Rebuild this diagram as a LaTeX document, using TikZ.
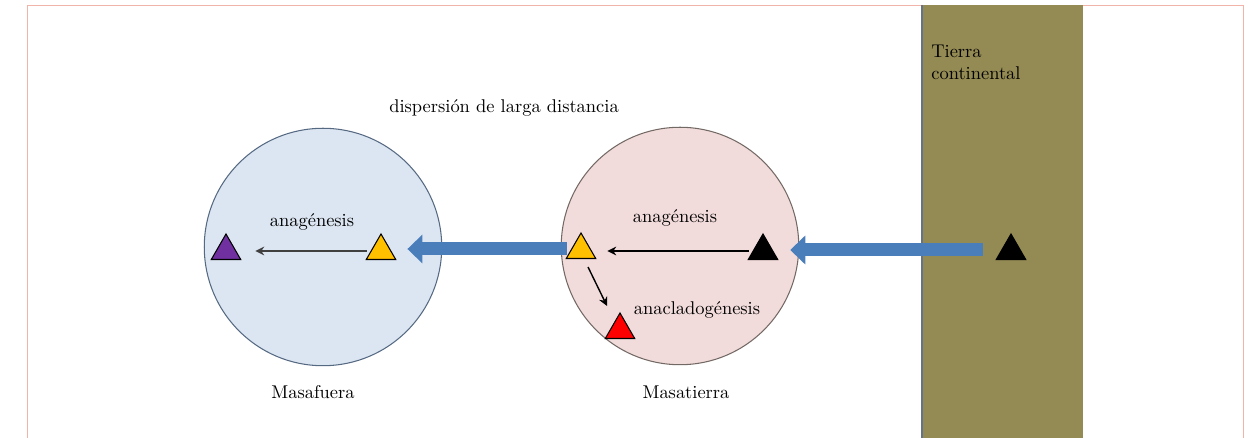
\documentclass[tikz,border=0pt]{standalone}
\usepackage{tikz}
\usetikzlibrary{arrows.meta,shapes.geometric}
\definecolor{mfuera}{RGB}{220,230,242}
\definecolor{mfborde}{RGB}{85,105,130}
\definecolor{mtierra}{RGB}{242,220,219}
\definecolor{mtborde}{RGB}{115,105,100}
\definecolor{continente}{RGB}{148,138,84}
\definecolor{contborde}{RGB}{100,115,135}
\definecolor{flecha}{RGB}{74,126,187}
\definecolor{marco}{RGB}{242,180,168}
\definecolor{amarillo}{RGB}{255,192,0}
\definecolor{morado}{RGB}{112,48,160}
\begin{document}
\begin{tikzpicture}[x=0.02cm,y=-0.02cm,font=\fontsize{10.5}{12.5}\selectfont,
        tri/.style={regular polygon,regular polygon sides=3,draw=black,line width=0.6pt,minimum size=0.68cm,inner sep=0pt},
        isla/.style={circle,minimum size=4.75cm,line width=0.6pt},
        grande/.style={line width=0.26cm,draw=flecha,-{Triangle[width=0.56cm,length=0.3cm]}},
        fina/.style={line width=0.8pt,-{Stealth[length=5pt,width=5pt]}}]
        \useasboundingbox (0,0) rectangle (1255,438);
        \draw[marco] (27,445) -- (27,5.5) -- (1243,5.5) -- (1243,445);
        \fill[continente] (922,5) rectangle (1083,445);
        \draw[contborde,line width=1.2pt] (922,5) -- (922,445);
        \node[isla,fill=mfuera,draw=mfborde] (masafuera) at (323,247) {};
        \node[isla,fill=mtierra,draw=mtborde] (masatierra) at (680,246) {};
        \foreach \n/\x/\y/\c in {pm/226/251/morado,ya/381/251/amarillo,yb/581/250/amarillo,
        nm/763/251/black,rt/620/330/red,nc/1011/251/black} {
        \node[tri,fill=\c] (\n) at (\x,\y) {}; }
        \draw[fina,black!75,line width=1pt] ([shift={(-4,0)}]ya.west) -- ([shift={(19,0)}]pm.east);
        \draw[fina] ([shift={(-4,0)}]nm.west) -- ([shift={(16,0)}]nm.west -| yb.east);
        \draw[fina] ([shift={(-2,8)}]yb.south east) -- ([shift={(-13,-6)}]rt.north);
        \draw[grande] ([shift={(-4,-1)}]yb.west) -- ([shift={(16,-1)}]yb.west -| ya.east);
        \draw[grande] ([shift={(-18,-1)}]nc.west) -- ([shift={(-9,-1)}]nc.west -| masatierra.east);
        \node (anaf) at (312,222) {anagénesis};
        \node (anat) at (675,218) {anagénesis};
        \node (anaclado) at (697,310) {anacladogénesis};
        \node (nmasafuera) at (313,392) {Masafuera};
        \node (nmasatierra) at (686,392) {Masatierra};
        \node (dispersion) at (504,108) {dispersión de larga distancia};
        \node[anchor=north west,align=left,inner sep=0pt] (tierra) at (931,45) {Tierra\\continental};
      \end{tikzpicture}
\end{document}
